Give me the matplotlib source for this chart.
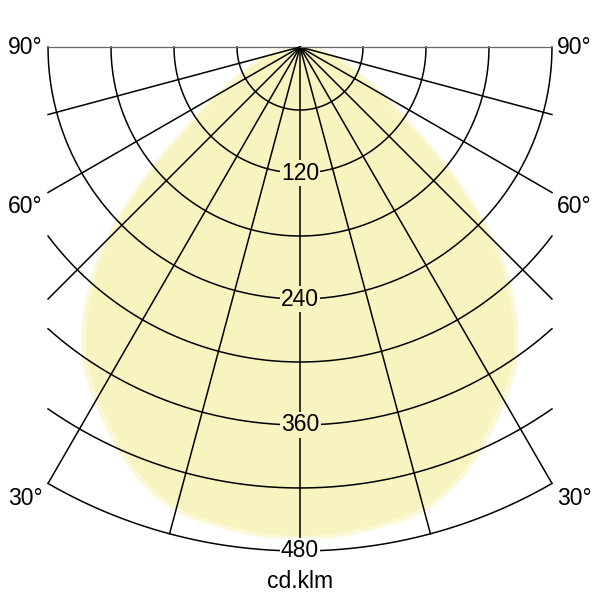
import numpy as np
import matplotlib.pyplot as plt
from matplotlib.path import Path
from matplotlib.patches import PathPatch

plt.rcParams['font.family'] = ['Liberation Sans', 'DejaVu Sans']

# Lichtstärkeverteilung, Winkel ab Nadir (Grad) und Werte in cd/klm
angles = [0, 5, 10, 15, 20, 25, 30, 35, 40, 45, 50, 55, 60, 65, 70, 75, 80, 85, 90]
main_vals = [466, 464, 460, 454, 437, 412, 385, 355, 310, 255, 185, 122, 85, 58, 40, 27, 16, 7, 0]
outer_vals = [470, 468, 464, 458, 442, 418, 391, 362, 319, 265, 196, 135, 97, 70, 52, 40, 28, 14, 0]

rings = [60, 120, 180, 240, 300, 360, 420, 480]
ring_labels = [120, 240, 360, 480]
spokes = [-90, -75, -60, -45, -30, -15, 0, 15, 30, 45, 60, 75, 90]
angle_labels = ['90°', '60°', '30°']
angle_label_y = [0, -152, -430]
unit = 'cd.klm'

xmax = 240  # Raster links und rechts abgeschnitten
fill_main = '#f7f4c0'
fill_outer = '#faf8d6'
fs = 16.5

fig = plt.figure(figsize=(6, 6), dpi=100)
ax = fig.add_axes([0, 0, 1, 1])
ax.set_xlim(-285.7, 285.7)
ax.set_ylim(-526.7, 44.8)
ax.set_aspect('equal')
ax.axis('off')


def outline(vals):
    a = np.radians(np.array(angles, dtype=float))
    v = np.array(vals, dtype=float)
    th = np.concatenate([-a[::-1], a[1:]])
    r = np.concatenate([v[::-1], v[1:]])
    return np.column_stack([r * np.sin(th), -r * np.cos(th)])


def smooth_path(pts):
    # Catmull-Rom als Bezier, geht durch alle Punkte
    n = len(pts)
    verts = [pts[0]]
    codes = [Path.MOVETO]
    for i in range(n - 1):
        p0 = pts[i - 1] if i > 0 else pts[i]
        p1 = pts[i]
        p2 = pts[i + 1]
        p3 = pts[i + 2] if i + 2 < n else pts[i + 1]
        verts += [p1 + (p2 - p0) / 6, p2 - (p3 - p1) / 6, p2]
        codes += [Path.CURVE4] * 3
    verts.append(pts[0])
    codes.append(Path.CLOSEPOLY)
    return Path(verts, codes)


ax.add_patch(PathPatch(smooth_path(outline(outer_vals)), fc=fill_outer, lw=0, zorder=1))
ax.add_patch(PathPatch(smooth_path(outline(main_vals)), fc=fill_main, lw=0, zorder=2))

# Kreise
for r in rings:
    tmax = np.arcsin(min(1.0, xmax / r))
    t = np.linspace(-tmax, tmax, 300)
    ax.plot(r * np.sin(t), -r * np.cos(t), color='black', lw=1.1, zorder=3)

# Strahlen
for s in spokes:
    t = np.radians(s)
    if abs(np.sin(t)) > 1e-9:
        length = min(rings[-1], xmax / abs(np.sin(t)))
    else:
        length = rings[-1]
    if abs(s) == 90:
        ax.plot([0, length * np.sin(t)], [0, -length * np.cos(t)], color='#666666', lw=0.9, zorder=3)
    else:
        ax.plot([0, length * np.sin(t)], [0, -length * np.cos(t)], color='black', lw=1.1, zorder=3)

# Beschriftung der Kreise
for r in ring_labels:
    bg = 'white' if r == 480 else fill_main
    ax.text(0, -r, str(r), ha='center', va='center', fontsize=fs, zorder=5,
            bbox=dict(boxstyle='square,pad=0.06', fc=bg, ec='none'))

# Winkel
for lab, yy in zip(angle_labels, angle_label_y):
    ax.text(-245, yy, lab, ha='right', va='center', fontsize=fs)
    ax.text(245, yy, lab, ha='left', va='center', fontsize=fs)

ax.text(0, -509, unit, ha='center', va='center', fontsize=fs)

fig.savefig('out.png', dpi=100, facecolor='white')
